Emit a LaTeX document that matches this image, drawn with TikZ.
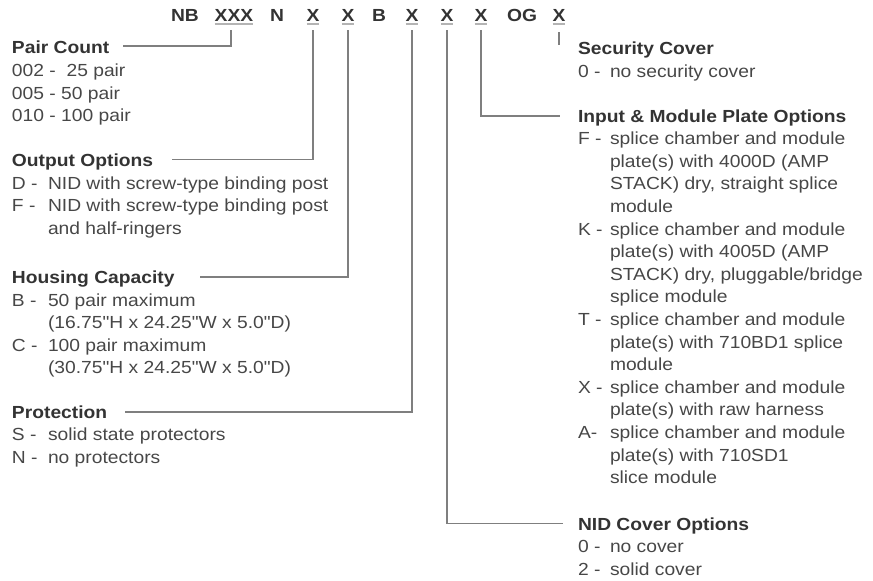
\documentclass[tikz,border=0pt]{standalone}
\usepackage{fontspec}
\setmainfont{Liberation Sans}[FakeStretch=1.1, Ligatures=TeXOff]
\definecolor{txt}{HTML}{474747}
\definecolor{hd}{HTML}{333333}
\definecolor{ln}{HTML}{7f7f7f}
\definecolor{ulc}{HTML}{b4b4b4}
\begin{document}
\begin{tikzpicture}[x=1pt,y=-1pt,
  every node/.style={inner sep=0pt, outer sep=0pt, font=\fontsize{17.5}{22.6}\selectfont, text=txt},
  head/.style={anchor=base west, font=\fontsize{17.5}{22.6}\selectfont\bfseries, text=hd},
  item/.style={anchor=base west},
  code/.style={anchor=base, font=\fontsize{17.5}{22.6}\selectfont\bfseries, text=hd},
  conn/.style={draw=ln, line width=1.3pt},
  uline/.style={draw=ulc, line width=1.6pt}]
\useasboundingbox (0,0) rectangle (873,581);

% ---- code row ----
\node[code] (nb)  at (185,21) {NB};
\node[code] (xxx) at (234,21) {XXX};
\node[code] (n)   at (277,21) {N};
\node[code] (xa)  at (313,21) {X};
\node[code] (xb)  at (348,21) {X};
\node[code] (b)   at (379,21) {B};
\node[code] (xc)  at (412,21) {X};
\node[code] (xd)  at (447,21) {X};
\node[code] (xe)  at (481,21) {X};
\node[code] (og)  at (522,21) {OG};
\node[code] (xf)  at (559,21) {X};
\foreach \c in {xxx,xa,xb,xc,xd,xe,xf}
  \draw[uline] ([yshift=-3pt]\c.base west) -- ([yshift=-3pt]\c.base east);

% ---- left column ----
\node[head] (pc) at (12,53.5) {Pair Count};
\node[item] (pc1) at (12,76.5) {002 -\ \ 25 pair};
\node[item] (pc2) at (12,99) {005 - 50 pair};
\node[item] (pc3) at (12,121.5) {010 - 100 pair};

\node[head] (oo) at (12,166.5) {Output Options};
\node[item] (ooD) at (12,189) {D -};
\node[item] (ooDt) at (48,189) {NID with screw-type binding post};
\node[item] (ooF) at (12,211.5) {F -};
\node[item] (ooFt) at (48,211.5) {NID with screw-type binding post};
\node[item] (ooFt2) at (48,234) {and half-ringers};

\node[head] (hc) at (12,283.5) {Housing Capacity};
\node[item] (hcB) at (12,306) {B -};
\node[item] (hcBt) at (48,306) {50 pair maximum};
\node[item] (hcBt2) at (48,328.5) {(16.75"H x 24.25"W x 5.0"D)};
\node[item] (hcC) at (12,351) {C -};
\node[item] (hcCt) at (48,351) {100 pair maximum};
\node[item] (hcCt2) at (48,373.5) {(30.75"H x 24.25"W x 5.0"D)};

\node[head] (pr) at (12,418.5) {Protection};
\node[item] (prS) at (12,440.5) {S -};
\node[item] (prSt) at (48,440.5) {solid state protectors};
\node[item] (prN) at (12,463) {N -};
\node[item] (prNt) at (48,463) {no protectors};

% ---- right column ----
\node[head] (sc) at (578,54) {Security Cover};
\node[item] (sc0) at (578,77) {0 -};
\node[item] (sc0t) at (610,77) {no security cover};

\node[head] (im) at (578,122) {Input \& Module Plate Options};
\node[item] (imF) at (578,144.6) {F -};
\node[item] (imF1) at (610,144.6) {splice chamber and module};
\node[item] (imF2) at (610,167.2) {plate(s) with 4000D (AMP};
\node[item] (imF3) at (610,189.8) {STACK) dry, straight splice};
\node[item] (imF4) at (610,212.4) {module};
\node[item] (imK) at (578,235) {K -};
\node[item] (imK1) at (610,235) {splice chamber and module};
\node[item] (imK2) at (610,257.6) {plate(s) with 4005D (AMP};
\node[item] (imK3) at (610,280.2) {STACK) dry, pluggable/bridge};
\node[item] (imK4) at (610,302.8) {splice module};
\node[item] (imT) at (578,325.4) {T -};
\node[item] (imT1) at (610,325.4) {splice chamber and module};
\node[item] (imT2) at (610,348) {plate(s) with 710BD1 splice};
\node[item] (imT3) at (610,370.6) {module};
\node[item] (imX) at (578,393.2) {X -};
\node[item] (imX1) at (610,393.2) {splice chamber and module};
\node[item] (imX2) at (610,415.8) {plate(s) with raw harness};
\node[item] (imA) at (578,438.4) {A-};
\node[item] (imA1) at (610,438.4) {splice chamber and module};
\node[item] (imA2) at (610,461) {plate(s) with 710SD1};
\node[item] (imA3) at (610,483.6) {slice module};

\node[head] (nc) at (578,530) {NID Cover Options};
\node[item] (nc0) at (578,552.6) {0 -};
\node[item] (nc0t) at (610,552.6) {no cover};
\node[item] (nc2) at (578,575.2) {2 -};
\node[item] (nc2t) at (610,575.2) {solid cover};

% ---- connectors ----
\coordinate (pcL) at (123,46);
\coordinate (ooL) at (172,159.5);
\coordinate (hcL) at (200,277);
\coordinate (prL) at (125,412);
\coordinate (imR) at (560,116);
\coordinate (ncR) at (563,523.5);

\draw[conn] ([xshift=-3pt,yshift=-9pt]xxx.base) |- (pcL);
\draw[conn] ([yshift=-9pt]xa.base) |- (ooL);
\draw[conn] ([yshift=-9pt]xb.base) |- (hcL);
\draw[conn] ([yshift=-9pt]xc.base) |- (prL);
\draw[conn] ([yshift=-9pt]xd.base) |- (ncR);
\draw[conn] ([yshift=-9pt]xe.base) |- (imR);
\draw[conn] ([yshift=-11pt]xf.base) -- ([yshift=-24pt]xf.base);
\end{tikzpicture}
\end{document}
